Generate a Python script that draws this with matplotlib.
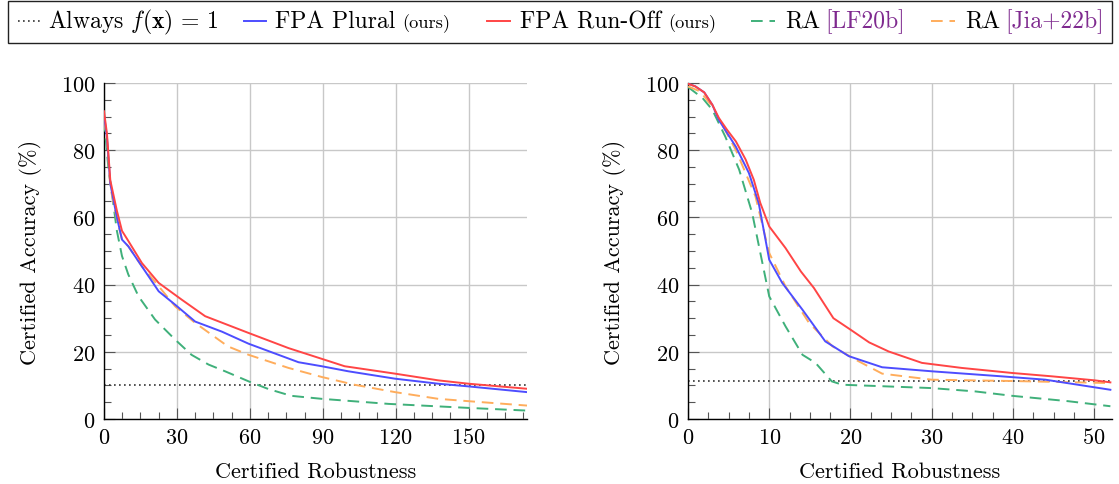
import matplotlib
matplotlib.use('Agg')
import matplotlib.pyplot as plt
from matplotlib.lines import Line2D
from matplotlib.patches import Rectangle
from matplotlib.ticker import MultipleLocator

plt.rcParams['font.family'] = ['cmr10', 'DejaVu Serif']
plt.rcParams['mathtext.fontset'] = 'cm'
plt.rcParams['axes.formatter.use_mathtext'] = True
plt.rcParams['axes.unicode_minus'] = False

# ---------------- data (left panel) ----------------
L_red_x = [0, 1.2, 2.6, 5.3, 7.4, 10, 15.6, 22.5, 32, 41.6, 59.5, 75.9, 89.6, 99, 119.7, 137.5, 150, 174]
L_red_y = [91.6, 85, 71, 62, 56, 53, 46.4, 40.5, 35.5, 30.6, 25.6, 21.1, 17.9, 15.7, 13.5, 11.5, 10.5, 9.0]
L_blue_x = [0, 1.2, 2.6, 5.3, 7.4, 10, 15.6, 22.5, 29.3, 37.5, 48.5, 59.5, 80, 89.6, 100.5, 119.7, 137.5, 150, 174]
L_blue_y = [90.5, 84, 70, 60, 53.4, 51.4, 45.4, 38, 34, 29, 26, 22.4, 16.9, 15.7, 14.2, 12, 10.5, 9.7, 8.0]
L_orange_x = [0, 1.2, 2.6, 5.3, 7.4, 10, 15.6, 22.5, 29.3, 37.5, 51, 59.5, 75.9, 89.6, 103, 119.7, 137.5, 150, 174]
L_orange_y = [89.5, 83, 69, 59.5, 53.4, 51.4, 45.4, 39.5, 33.5, 28.6, 21.6, 19.1, 15.2, 12.5, 10.2, 8.0, 6.0, 5.3, 4.0]
L_green_x = [0, 1.9, 3.3, 5.3, 7.4, 10, 14.2, 21, 29.3, 36, 43, 49.8, 59.5, 67.7, 77, 89.6, 117, 150, 174]
L_green_y = [89, 74, 67, 56, 48.5, 43, 36.5, 29.6, 23.6, 19.1, 16.2, 14.2, 11.2, 8.9, 6.9, 6.0, 4.5, 3.3, 2.5]
L_always = 10.0

# ---------------- data (right panel) ----------------
R_red_x = [0, 0.9, 2, 3, 3.8, 4.8, 5.9, 7.1, 8.1, 8.9, 10, 12, 13.9, 15.5, 17.9, 20, 22.3, 24.7, 28.8, 33.7, 39.9, 44.8, 50.1, 52]
R_red_y = [99.8, 99, 97.2, 93.5, 89.6, 86.1, 82.6, 77.2, 71.2, 64.3, 57.3, 50.9, 43.9, 39, 30, 26.6, 22.8, 20.1, 16.7, 15.2, 13.7, 12.7, 11.5, 10.9]
R_blue_x = [0, 0.9, 2, 3, 3.8, 5.9, 7.5, 8.7, 10, 11.6, 14.1, 16.9, 19.8, 23.9, 30, 38.6, 44, 52]
R_blue_y = [99.8, 99, 97.2, 93.5, 89, 81, 73.2, 64.3, 47.4, 40.5, 32.5, 23.1, 18.7, 15.4, 14.2, 12.7, 11.7, 8.7]
R_orange_x = [0, 1.5, 3, 5.9, 8.3, 10, 12, 14.9, 17.8, 20.6, 23.9, 30, 40, 52]
R_orange_y = [99, 97.5, 93, 80, 66.3, 49.4, 39.5, 28.6, 21.6, 17.7, 13.5, 11.7, 11.3, 10.7]
R_green_x = [0, 1.8, 3, 4.6, 6.3, 7.9, 10, 12, 14.1, 15.7, 17.7, 19, 30, 35.4, 39.9, 46.8, 52]
R_green_y = [98.8, 95.5, 92, 84, 74.2, 61.3, 36.5, 27.6, 19.1, 16.7, 11.2, 10.2, 9.2, 8.2, 6.9, 5.3, 3.8]
R_always = 11.4

C_BLUE = '#4d4dff'
C_RED = '#ff4545'
C_GREEN = '#3fb07a'
C_ORANGE = '#ffad5c'
C_PURPLE = '#7f2a8f'
DASH = (0, (6, 3.5))

W, H = 1119, 485
fig = plt.figure(figsize=(W / 100, H / 100), dpi=100)

def px(x0, y0, x1, y1):
    return [x0 / W, 1 - y1 / H, (x1 - x0) / W, (y1 - y0) / H]

FS = 16
LFS = 17

def style(ax, xmax, xmaj, xmin):
    ax.set_xlim(0, xmax)
    ax.set_ylim(0, 100)
    ax.xaxis.set_major_locator(MultipleLocator(xmaj))
    ax.xaxis.set_minor_locator(MultipleLocator(xmin))
    ax.yaxis.set_major_locator(MultipleLocator(20))
    ax.yaxis.set_minor_locator(MultipleLocator(5))
    ax.grid(True, which='major', color='#c8c8c8', lw=1.0)
    ax.set_axisbelow(True)
    for s in ('top', 'right'):
        ax.spines[s].set_visible(False)
    for s in ('left', 'bottom'):
        ax.spines[s].set_color('black')
        ax.spines[s].set_linewidth(1.0)
    ax.tick_params(which='major', direction='in', length=8, width=0.8, color='#555555',
                   labelsize=FS, pad=6)
    ax.tick_params(which='minor', direction='in', length=5, width=0.8, color='#555555')
    ax.set_xlabel('Certified Robustness', fontsize=FS, labelpad=10)
    ax.set_ylabel('Certified Accuracy (%)', fontsize=FS, labelpad=14)

panels = [
    (px(104, 84, 527, 420), 174, 30, 7.5,
     (L_red_x, L_red_y), (L_blue_x, L_blue_y), (L_orange_x, L_orange_y), (L_green_x, L_green_y), L_always),
    (px(688, 84, 1112, 420), 52.2, 10, 2.5,
     (R_red_x, R_red_y), (R_blue_x, R_blue_y), (R_orange_x, R_orange_y), (R_green_x, R_green_y), R_always),
]

for rect, xmax, xmaj, xmin, red, blue, orange, green, always in panels:
    ax = fig.add_axes(rect)
    ax.axhline(always, color='#333333', lw=1.2, ls=(0, (1, 2)), zorder=2)
    ax.plot(*green, color=C_GREEN, lw=1.4, ls=DASH, zorder=3)
    ax.plot(*orange, color=C_ORANGE, lw=1.4, ls=DASH, zorder=4)
    ax.plot(*blue, color=C_BLUE, lw=1.4, zorder=5)
    ax.plot(*red, color=C_RED, lw=1.4, zorder=6)
    style(ax, xmax, xmaj, xmin)

# ---------------- manual legend ----------------
fig.patches.append(Rectangle((8 / W, 1 - 44 / H), (1112 - 8) / W, 42 / H,
                             transform=fig.transFigure, fill=False,
                             edgecolor='#222222', lw=1.0))
ly = 1 - 22 / H
lbase = 1 - 28.5 / H
entries = [
    (18, 41, 48, dict(color='#333333', lw=1.2, ls=(0, (1, 2))), r'Always $f(\mathbf{x})\,=\,1$', None, None),
    (244, 266, 275, dict(color=C_BLUE, lw=1.4), 'FPA Plural', '(ours)', 'small'),
    (487, 510, 520, dict(color=C_RED, lw=1.4), 'FPA Run-Off', '(ours)', 'small'),
    (751, 775, 785, dict(color=C_GREEN, lw=1.4, ls=(0, (6, 3.5))), 'RA', '[LF20b]', 'cite'),
    (931, 955, 965, dict(color=C_ORANGE, lw=1.4, ls=(0, (6, 3.5))), 'RA', '[Jia+22b]', 'cite'),
]
fig.canvas.draw()
renderer = fig.canvas.get_renderer()
for h0, h1, tx, lkw, label, suffix, kind in entries:
    fig.add_artist(Line2D([h0 / W, h1 / W], [ly, ly], transform=fig.transFigure, **lkw))
    t = fig.text(tx / W, lbase, label, fontsize=LFS, va='baseline', ha='left')
    if suffix:
        bb = t.get_window_extent(renderer)
        if kind == 'small':
            fig.text((bb.x1 + 7) / W, lbase, suffix, fontsize=LFS * 0.78, va='baseline', ha='left')
        else:
            fig.text((bb.x1 + 5) / W, lbase, suffix, fontsize=LFS, va='baseline', ha='left', color=C_PURPLE)

fig.savefig('out.png', dpi=100)
